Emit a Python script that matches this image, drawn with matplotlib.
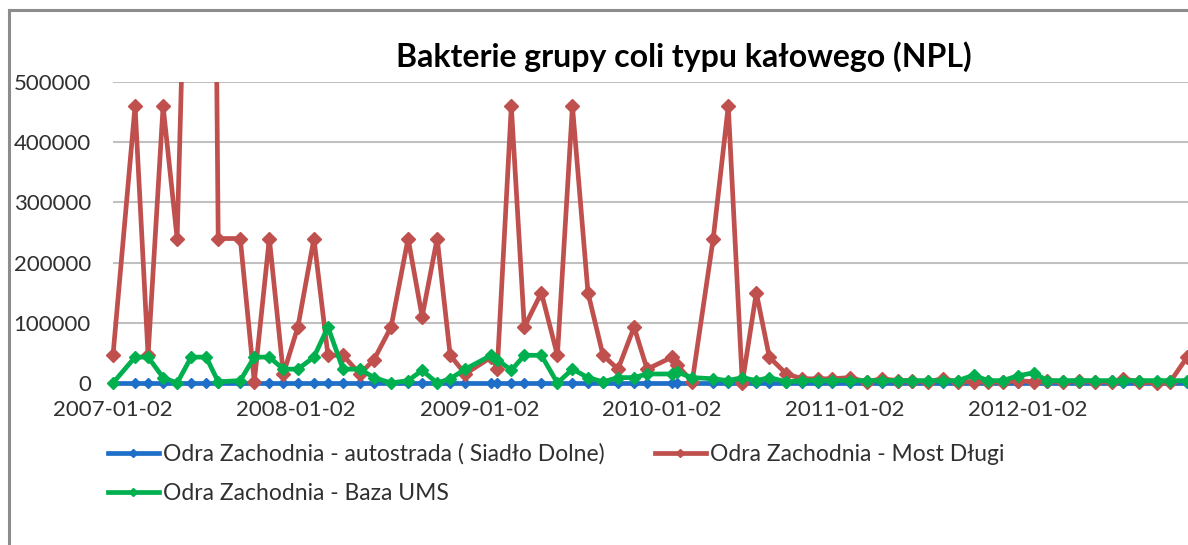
import numpy as np
import pandas as pd
import matplotlib
matplotlib.use("Agg")
import matplotlib.pyplot as plt
import matplotlib.dates as mdates
from matplotlib.lines import Line2D
from matplotlib.patches import Rectangle

plt.rcParams['font.family'] = ['Lato', 'DejaVu Sans']

# daty poboru próbek
dates = pd.to_datetime([
    "2007-01-02", "2007-02-15", "2007-03-13", "2007-04-12", "2007-05-10",
    "2007-06-07", "2007-07-07", "2007-07-31", "2007-09-13", "2007-10-11",
    "2007-11-10", "2007-12-08", "2008-01-06", "2008-02-07", "2008-03-06",
    "2008-04-05", "2008-05-09", "2008-06-06", "2008-07-10", "2008-08-13",
    "2008-09-10", "2008-10-10", "2008-11-05", "2008-12-05", "2009-01-26",
    "2009-02-07", "2009-03-07", "2009-04-02", "2009-05-06", "2009-06-07",
    "2009-07-07", "2009-08-07", "2009-09-06", "2009-10-06", "2009-11-07",
    "2009-12-03", "2010-01-22", "2010-02-01", "2010-03-03", "2010-04-14",
    "2010-05-14", "2010-06-11", "2010-07-09", "2010-08-04", "2010-09-07",
    "2010-10-09", "2010-11-10", "2010-12-08", "2011-01-11", "2011-02-14",
    "2011-03-16", "2011-04-17", "2011-05-15", "2011-06-16", "2011-07-16",
    "2011-08-15", "2011-09-16", "2011-10-14", "2011-11-13", "2011-12-13",
    "2012-01-14", "2012-02-09", "2012-03-12", "2012-04-13", "2012-05-15",
    "2012-06-18", "2012-07-10", "2012-08-11", "2012-09-16", "2012-10-12",
    "2012-11-15",
])

# Odra Zachodnia - autostrada ( Siadło Dolne)
autostrada = [0] * 71

# Odra Zachodnia - Most Długi
most_dlugi = [
    46000, 460000, 46000, 460000, 240000, 1100000, 2400000, 240000, 240000, 2000,
    240000, 15000, 93000, 240000, 46000, 46000, 15000, 39000, 93000, 240000,
    110000, 240000, 46000, 15000, 43000, 24000, 460000, 93000, 150000, 46000,
    460000, 150000, 46000, 23000, 93000, 23000, 43000, 30000, 2000, 240000,
    460000, 0, 150000, 43000, 15000, 7000, 7000, 7000, 9000, 2000,
    7000, 4000, 4000, 2000, 7000, 2000, 2000, 2000, 2000, 4000,
    2000, 4000, 2000, 4000, 2000, 2000, 7000, 2000, 0, 2000,
    43000,
]

# Odra Zachodnia - Baza UMS
baza_ums = [
    0, 43000, 43000, 9000, 0, 43000, 43000, 2000, 4000, 43000,
    43000, 23000, 23000, 43000, 93000, 23000, 23000, 9000, 0, 4000,
    21000, 0, 7000, 23000, 46000, 39000, 21000, 46000, 46000, 0,
    23000, 9000, 2000, 9000, 9000, 15000, 15000, 18000, 9000, 7000,
    4000, 9000, 4000, 9000, 2000, 4000, 4000, 4000, 4000, 4000,
    4000, 4000, 4000, 4000, 4000, 4000, 13000, 4000, 4000, 12000,
    17000, 4000, 4000, 4000, 4000, 4000, 4000, 4000, 4000, 4000,
    4000,
]

labels = [
    "Odra Zachodnia - autostrada ( Siadło Dolne)",
    "Odra Zachodnia - Most Długi",
    "Odra Zachodnia - Baza UMS",
]
colors = ["#1f6fc8", "#c0504d", "#00b04f"]

fig = plt.figure(figsize=(11.88, 5.45), dpi=100)
W, H = 1188, 545
ax = fig.add_axes([113 / W, 1 - 383 / H, (W - 113) / W, (383 - 82) / H])

# przycinanie tylko od góry (wartości > 500000), dół widoczny w całości
clip = Rectangle((-0.02, -0.06), 1.04, 1.06, transform=ax.transAxes,
                 fill=False, visible=False)
ax.add_patch(clip)

l1, = ax.plot(dates, autostrada, color=colors[0], lw=3.4, marker="D", ms=5,
              zorder=3)
l2, = ax.plot(dates, most_dlugi, color=colors[1], lw=3.4, marker="D", ms=7,
              zorder=4)
l3, = ax.plot(dates, baza_ums, color=colors[2], lw=3.4, marker="D", ms=6,
              zorder=5)
for ln in (l1, l2, l3):
    ln.set_clip_path(clip)

x0 = pd.Timestamp("2007-01-02")
ax.set_xlim(x0, x0 + pd.Timedelta(days=(W - 113) / 183 * 365.25))
ax.set_ylim(0, 500000)
ax.set_yticks(np.arange(0, 500001, 100000))
ax.yaxis.set_major_formatter(matplotlib.ticker.FuncFormatter(lambda v, p: f"{int(v)}"))
ax.set_xticks([pd.Timestamp(f"{y}-01-02") for y in range(2007, 2013)])
ax.xaxis.set_major_formatter(mdates.DateFormatter("%Y-%m-%d"))

ax.grid(axis="y", color="#c0c0c0", lw=1.5)
ax.set_axisbelow(True)
for s in ["left", "right", "top"]:
    ax.spines[s].set_visible(False)
ax.spines["bottom"].set_color("#c0c0c0")
ax.tick_params(axis="both", length=0, labelsize=16, colors="#303030")
ax.tick_params(axis="y", pad=16)
ax.tick_params(axis="x", pad=12)

fig.text(684 / W, 1 - 57 / H, "Bakterie grupy coli typu kałowego (NPL)",
         ha="center", va="center", fontsize=23, fontweight="bold", color="black")

handles = [Line2D([], [], color=c, lw=3.4, marker="D", ms=4.5) for c in colors]
leg = fig.legend([handles[0], handles[2], handles[1]], [labels[0], labels[2], labels[1]],
                 ncol=2, loc="upper left", bbox_to_anchor=(99 / W, 1 - 434 / H),
                 frameon=False, fontsize=16.5, handlelength=2.2, handletextpad=0.2,
                 columnspacing=2.2, labelspacing=0.78, borderaxespad=0)
for t in leg.get_texts():
    t.set_color("#303030")

# ramka wykresu
fig.add_artist(Line2D([8.5 / W, 8.5 / W], [0, 1 - 10 / H], color="#8c8c8c", lw=2.2,
                      transform=fig.transFigure))
fig.add_artist(Line2D([8.5 / W, 1], [1 - 10 / H, 1 - 10 / H], color="#8c8c8c", lw=2.2,
                      transform=fig.transFigure))

fig.savefig("out.png", dpi=100)
